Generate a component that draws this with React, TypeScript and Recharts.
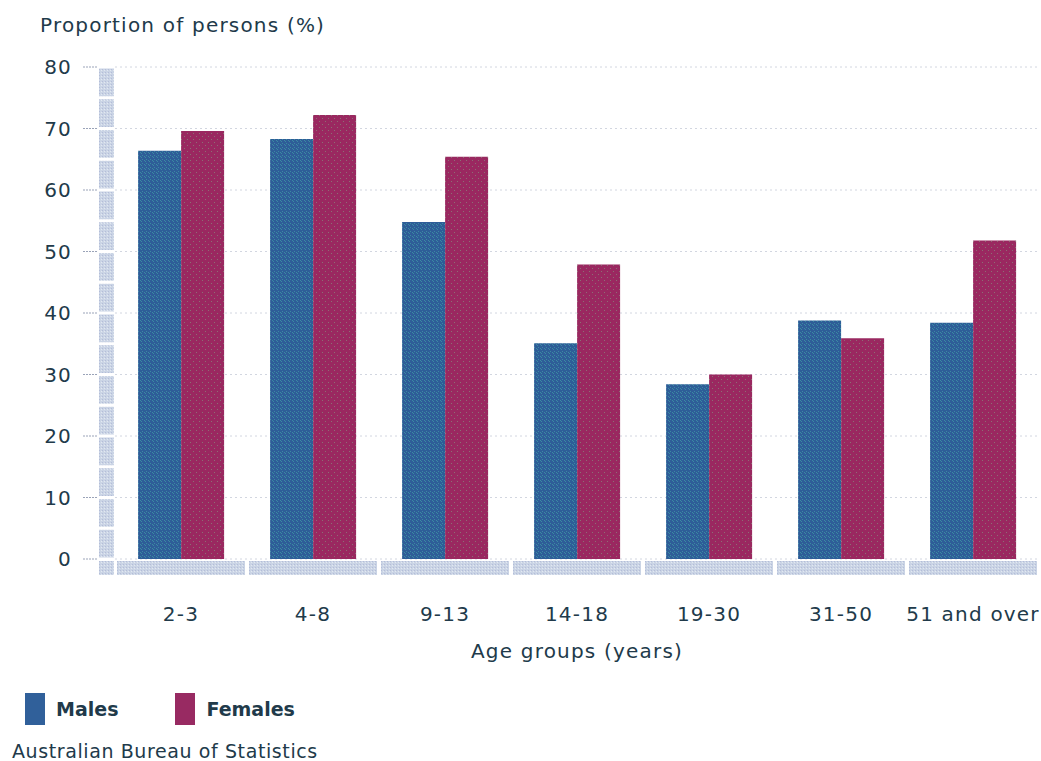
import { Bar, BarChart, CartesianGrid, XAxis, YAxis } from "recharts";

const categories = ["2-3", "4-8", "9-13", "14-18", "19-30", "31-50", "51 and over"];
const males = [66.4, 68.3, 54.8, 35.1, 28.4, 38.8, 38.4];
const females = [69.6, 72.2, 65.4, 47.9, 30.0, 35.9, 51.8];
const yTicks = [0, 10, 20, 30, 40, 50, 60, 70, 80];

const CHART_W = 1041;
const CHART_H = 700;
const PLOT_LEFT = 115;
const PLOT_TOP = 67;
const PLOT_BOTTOM = 559;
const PLOT_RIGHT = 1039;
const BAND = (PLOT_RIGHT - PLOT_LEFT) / categories.length;
const STEP = (PLOT_BOTTOM - PLOT_TOP) / (yTicks.length - 1);

const TEXT = "#213a4a";
const FONT = "'DejaVu Sans', Verdana, sans-serif";
const AXIS_FILL = "url(#axisTex)";

const data = categories.map((name, i) => ({
	name,
	males: males[i],
	females: females[i],
}));

function YTick(props: any) {
	const { y, payload } = props;
	const v = payload.value;
	return (
		<g>
			<text
				x={72}
				y={y}
				dy="0.36em"
				textAnchor="end"
				fill={TEXT}
				fontFamily={FONT}
				fontSize={20}
				letterSpacing={1.2}
			>
				{v}
			</text>
			<line x1={83} x2={98} y1={y} y2={y} stroke="#9aa3b8" strokeDasharray="2 1" />
			{v > 0 ? (
				<>
					<rect x={99} y={y + 1.5} width={15} height={STEP / 2 - 3} fill={AXIS_FILL} />
					<rect x={99} y={y + STEP / 2 + 1.5} width={15} height={STEP / 2 - 3} fill={AXIS_FILL} />
				</>
			) : (
				<rect x={99} y={y + 2} width={15} height={14} fill={AXIS_FILL} />
			)}
		</g>
	);
}

function XTick(props: any) {
	const { x, payload } = props;
	return (
		<g>
			<rect x={x - BAND / 2 + 2} y={PLOT_BOTTOM + 2} width={BAND - 4} height={14} fill={AXIS_FILL} />
			<text
				x={x}
				y={PLOT_BOTTOM + 62}
				textAnchor="middle"
				fill={TEXT}
				fontFamily={FONT}
				fontSize={20}
				letterSpacing={1.2}
			>
				{payload.value}
			</text>
		</g>
	);
}

function XTitle(props: any) {
	const vb = props.viewBox || {};
	return (
		<text
			x={vb.x + vb.width / 2}
			y={PLOT_BOTTOM + 99}
			textAnchor="middle"
			fill={TEXT}
			fontFamily={FONT}
			fontSize={20}
			letterSpacing={1.2}
		>
			Age groups (years)
		</text>
	);
}

function YTitle() {
	return (
		<text x={40} y={PLOT_TOP - 35} fill={TEXT} fontFamily={FONT} fontSize={20} letterSpacing={1.2}>
			Proportion of persons (%)
		</text>
	);
}

export default function App() {
	return (
		<div
			style={{
				position: "absolute",
				left: 0,
				top: 0,
				width: CHART_W,
				height: 761,
				background: "#fff",
				fontFamily: FONT,
				color: TEXT,
			}}
		>
			<BarChart
				width={CHART_W}
				height={CHART_H}
				data={data}
				margin={{ top: PLOT_TOP, right: CHART_W - PLOT_RIGHT, bottom: CHART_H - PLOT_BOTTOM - 110, left: 0 }}
				barCategoryGap="17.5%"
				barGap={0}
			>
				<defs>
					<pattern id="maleTex" width={4} height={4} patternUnits="userSpaceOnUse">
						<rect width={4} height={4} fill="#2e5d98" />
						<rect x={0} y={0} width={1} height={1} fill="#3b8aa2" />
						<rect x={1} y={1} width={1} height={1} fill="#3b8aa2" />
						<rect x={2} y={3} width={1} height={1} fill="#3b8aa2" />
					</pattern>
					<pattern id="femaleTex" width={6} height={6} patternUnits="userSpaceOnUse">
						<rect width={6} height={6} fill="#9a2860" />
						<rect x={1} y={1} width={1} height={1} fill="#8c6f74" />
						<rect x={4} y={4} width={1} height={1} fill="#8c6f74" />
					</pattern>
					<pattern id="axisTex" width={3} height={3} patternUnits="userSpaceOnUse">
						<rect width={3} height={3} fill="#cad4e5" />
						<rect x={0} y={0} width={1} height={1} fill="#b4bdd8" />
						<rect x={2} y={1} width={1} height={1} fill="#e2e8f1" />
					</pattern>
				</defs>
				<CartesianGrid vertical={false} stroke="#d2d6e0" strokeDasharray="2 3" />
				<XAxis
					dataKey="name"
					height={110}
					axisLine={false}
					tickLine={false}
					interval={0}
					tick={<XTick />}
					label={<XTitle />}
				/>
				<YAxis
					width={PLOT_LEFT}
					domain={[0, 80]}
					ticks={yTicks}
					axisLine={false}
					tickLine={false}
					tick={<YTick />}
					label={<YTitle />}
				/>
				<Bar dataKey="males" name="Males" fill="url(#maleTex)" isAnimationActive={false} />
				<Bar dataKey="females" name="Females" fill="url(#femaleTex)" isAnimationActive={false} />
			</BarChart>
			<div style={{ position: "absolute", left: 25, top: 693, display: "flex", alignItems: "center" }}>
				<span style={{ width: 20, height: 32, background: "#30609a", display: "inline-block" }} />
				<span style={{ marginLeft: 11, fontWeight: "bold", fontSize: 19 }}>Males</span>
				<span
					style={{ width: 20, height: 32, background: "#982a62", display: "inline-block", marginLeft: 57 }}
				/>
				<span style={{ marginLeft: 11, fontWeight: "bold", fontSize: 19 }}>Females</span>
			</div>
			<div style={{ position: "absolute", left: 12, top: 740, fontSize: 19, letterSpacing: 0.6 }}>
				Australian Bureau of Statistics
			</div>
		</div>
	);
}
